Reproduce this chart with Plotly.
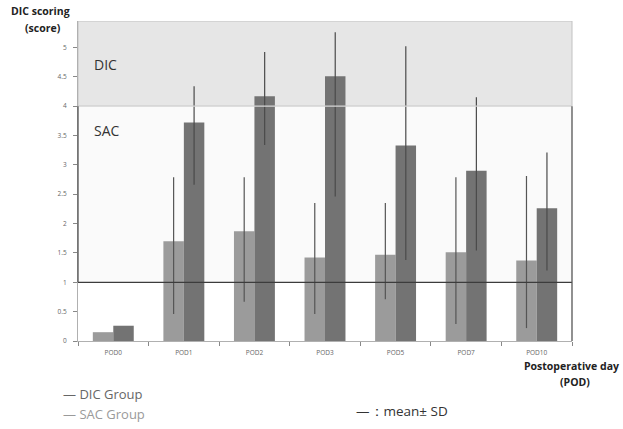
import plotly.graph_objects as go

categories = ["POD0", "POD1", "POD2", "POD3", "POD5", "POD7", "POD10"]
sac_mean = [0.15, 1.70, 1.87, 1.42, 1.47, 1.51, 1.37]
sac_hi = [0.15, 2.79, 2.79, 2.35, 2.35, 2.79, 2.81]
sac_lo = [0.15, 0.46, 0.67, 0.46, 0.71, 0.29, 0.22]
dic_mean = [0.26, 3.72, 4.17, 4.51, 3.33, 2.90, 2.26]
dic_hi = [0.26, 4.34, 4.92, 5.26, 5.02, 4.15, 3.21]
dic_lo = [0.26, 2.66, 3.34, 2.46, 1.38, 1.54, 1.20]
y_ticks = [0, 0.5, 1, 1.5, 2, 2.5, 3, 3.5, 4, 4.5, 5]
y_tick_labels = ["0", "0.5", "1", "1.5", "2", "2.5", "3", "3.5", "4", "4.5", "5"]
sac_lower, sac_upper = 1, 4
y_top = 5.45

W, H = 623, 429
L, R, T, B = 78, 51, 21, 88
PW, PH = W - L - R, H - T - B


def px(x):
    return (x - L) / PW


def py(y):
    return (H - B - y) / PH


sac_plus = [h - m for h, m in zip(sac_hi, sac_mean)]
sac_minus = [m - l for m, l in zip(sac_mean, sac_lo)]
dic_plus = [h - m for h, m in zip(dic_hi, dic_mean)]
dic_minus = [m - l for m, l in zip(dic_mean, dic_lo)]

fig = go.Figure()
fig.add_trace(go.Bar(
    x=categories, y=sac_mean, name="SAC Group",
    marker=dict(color="#9b9b9b", line=dict(width=0)),
    error_y=dict(type="data", symmetric=False, array=sac_plus, arrayminus=sac_minus,
                 color="#555555", thickness=1.2, width=0),
))
fig.add_trace(go.Bar(
    x=categories, y=dic_mean, name="DIC Group",
    marker=dict(color="#737373", line=dict(width=0)),
    error_y=dict(type="data", symmetric=False, array=dic_plus, arrayminus=dic_minus,
                 color="#4a4a4a", thickness=1.2, width=0),
))

shapes = [
    dict(type="rect", xref="paper", yref="y", x0=0, x1=1, y0=sac_upper, y1=y_top,
         fillcolor="#e6e6e6", line=dict(color="#c2c2c2", width=1), layer="below"),
    dict(type="rect", xref="paper", yref="y", x0=0, x1=1, y0=sac_lower, y1=sac_upper,
         fillcolor="#fafafa", line=dict(width=0), layer="below"),
    dict(type="line", xref="paper", yref="y", x0=0, x1=1, y0=sac_upper, y1=sac_upper,
         line=dict(color="#d6d6d6", width=1.2), layer="above"),
    dict(type="line", xref="paper", yref="y", x0=0, x1=1, y0=sac_lower, y1=sac_lower,
         line=dict(color="#3c3c3c", width=1.3), layer="above"),
    dict(type="line", xref="paper", yref="y", x0=0, x1=0, y0=sac_lower, y1=sac_upper,
         line=dict(color="#555555", width=1.3), layer="above"),
    dict(type="line", xref="paper", yref="y", x0=1, x1=1, y0=-0.05, y1=sac_upper,
         line=dict(color="#555555", width=1.3), layer="above"),
]

font_main = "Open Sans, Noto Sans, sans-serif"
annotations = [
    dict(text="DIC", xref="paper", yref="paper", x=px(92), y=py(65), xanchor="left",
         yanchor="middle", showarrow=False, font=dict(size=14, color="#333333", family=font_main)),
    dict(text="SAC", xref="paper", yref="paper", x=px(92), y=py(130), xanchor="left",
         yanchor="middle", showarrow=False, font=dict(size=14, color="#333333", family=font_main)),
    dict(text="<b>DIC scoring</b>", xref="paper", yref="paper", x=px(40), y=py(11),
         xanchor="center", yanchor="middle", showarrow=False,
         font=dict(size=10.5, color="#222222", family=font_main)),
    dict(text="<b>(score)</b>", xref="paper", yref="paper", x=px(43), y=py(28),
         xanchor="center", yanchor="middle", showarrow=False,
         font=dict(size=10.5, color="#222222", family=font_main)),
    dict(text="<b>Postoperative day</b>", xref="paper", yref="paper", x=px(621), y=py(366),
         xanchor="right", yanchor="middle", showarrow=False,
         font=dict(size=10.5, color="#222222", family=font_main)),
    dict(text="<b>(POD)</b>", xref="paper", yref="paper", x=px(592), y=py(382),
         xanchor="right", yanchor="middle", showarrow=False,
         font=dict(size=10.5, color="#222222", family=font_main)),
    dict(text="— DIC Group", xref="paper", yref="paper", x=px(61), y=py(394),
         xanchor="left", yanchor="middle", showarrow=False,
         font=dict(size=13, color="#666666", family=font_main)),
    dict(text="— SAC Group", xref="paper", yref="paper", x=px(61), y=py(414),
         xanchor="left", yanchor="middle", showarrow=False,
         font=dict(size=13, color="#9a9a9a", family=font_main)),
    dict(text="—：mean± SD", xref="paper", yref="paper", x=px(354), y=py(411),
         xanchor="left", yanchor="middle", showarrow=False,
         font=dict(size=13.5, color="#333333", family=font_main)),
]

fig.update_layout(
    width=W, height=H,
    margin=dict(l=L, r=R, t=T, b=B, pad=0),
    paper_bgcolor="white", plot_bgcolor="white",
    barmode="group", bargap=0.42, bargroupgap=0,
    showlegend=False,
    shapes=shapes, annotations=annotations,
    xaxis=dict(
        type="category", categoryorder="array", categoryarray=categories,
        showline=True, linecolor="#b0b0b0", linewidth=1,
        ticks="outside", tickson="boundaries", ticklen=4, tickcolor="#888888",
        tickfont=dict(size=6.5, color="#666666", family=font_main),
        ticklabelstandoff=5,
        showgrid=False, zeroline=False,
    ),
    yaxis=dict(
        range=[0, y_top], tickmode="array", tickvals=y_ticks, ticktext=y_tick_labels,
        showline=True, linecolor="#b0b0b0", linewidth=1,
        ticks="outside", ticklen=4, tickcolor="#888888",
        tickfont=dict(size=6.5, color="#666666", family=font_main),
        ticklabelstandoff=5,
        showgrid=False, zeroline=False,
    ),
)

fig.write_html(
    "out.html",
    config={"displayModeBar": False},
    post_script="document.body.style.margin='0px';document.body.style.padding='0px';",
)
